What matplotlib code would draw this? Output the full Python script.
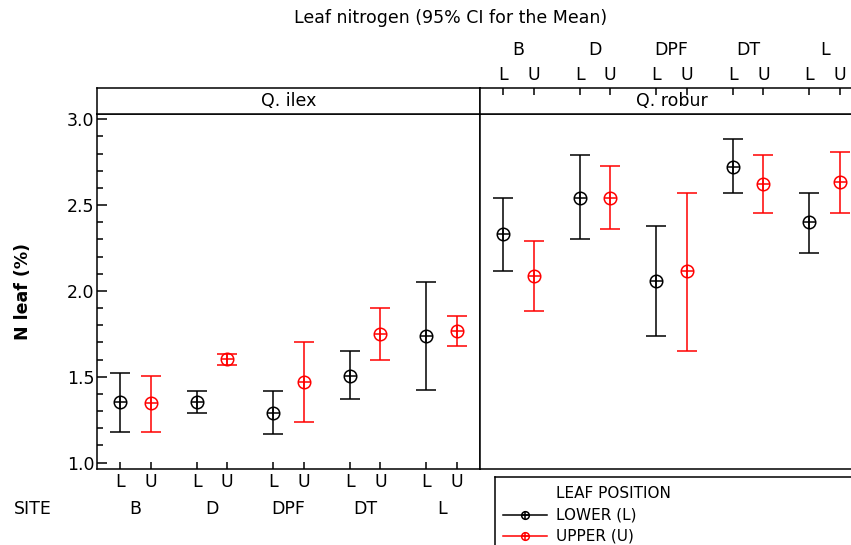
import numpy as np
import matplotlib
matplotlib.use("Agg")
from matplotlib import pyplot as plt
from matplotlib.lines import Line2D
import matplotlib.transforms as mtransforms

sites = ['B', 'D', 'DPF', 'DT', 'L']
positions = ['L', 'U']

# Q. ilex: mean, lower CI, upper CI (per site) for LOWER and UPPER leaves
ilex_L_mean = [1.353, 1.353, 1.291, 1.507, 1.738]
ilex_L_lo = [1.177, 1.291, 1.167, 1.373, 1.425]
ilex_L_hi = [1.524, 1.419, 1.417, 1.650, 2.052]
ilex_U_mean = [1.346, 1.606, 1.470, 1.748, 1.767]
ilex_U_lo = [1.177, 1.571, 1.239, 1.596, 1.678]
ilex_U_hi = [1.507, 1.633, 1.703, 1.899, 1.856]

# Q. robur
robur_L_mean = [2.330, 2.544, 2.060, 2.724, 2.400]
robur_L_lo = [2.115, 2.301, 1.740, 2.571, 2.223]
robur_L_hi = [2.542, 2.792, 2.380, 2.883, 2.569]
robur_U_mean = [2.087, 2.544, 2.115, 2.625, 2.635]
robur_U_lo = [1.882, 2.363, 1.651, 2.454, 2.454]
robur_U_hi = [2.293, 2.730, 2.569, 2.792, 2.810]

W, H = 851, 545
fig = plt.figure(figsize=(W / 100, H / 100), dpi=100)
plt.rcParams['font.family'] = ['DejaVu Sans']
FS = 12.5

def px(x0, y0, x1, y1):
    return [x0 / W, 1 - y1 / H, (x1 - x0) / W, (y1 - y0) / H]

xL = np.arange(len(sites)) * 2.5 + 1
xU = xL + 1
xlim = (0.25, 12.75)
ylim = (0.963, 3.029)

def draw_ci(ax, x, mean, lo, hi, color):
    mean = np.array(mean)
    err = [mean - np.array(lo), np.array(hi) - mean]
    ax.errorbar(x, mean, yerr=err, fmt='none', ecolor=color, elinewidth=1.1,
                capsize=7, capthick=1.1)
    ax.plot(x, mean, 'o', ms=9, mfc='none', mec=color, mew=1.1)
    ax.plot(x, mean, '+', ms=9, mec=color, mew=1.1)

ax1 = fig.add_axes(px(97, 114.3, 480, 469))
ax2 = fig.add_axes(px(480, 114.3, 863, 469))
s1 = fig.add_axes(px(97, 88, 480, 114.3))
s2 = fig.add_axes(px(480, 88, 863, 114.3))

draw_ci(ax1, xL, ilex_L_mean, ilex_L_lo, ilex_L_hi, 'black')
draw_ci(ax1, xU, ilex_U_mean, ilex_U_lo, ilex_U_hi, 'red')
draw_ci(ax2, xL, robur_L_mean, robur_L_lo, robur_L_hi, 'black')
draw_ci(ax2, xU, robur_U_mean, robur_U_lo, robur_U_hi, 'red')

xt = np.ravel(np.column_stack([xL, xU]))
xtl = positions * len(sites)

for ax in (ax1, ax2, s1, s2):
    ax.set_xlim(*xlim)
    for sp in ax.spines.values():
        sp.set_linewidth(1.1)

for ax in (ax1, ax2):
    ax.set_ylim(*ylim)

ax1.set_yticks([1.0, 1.5, 2.0, 2.5, 3.0])
ax1.set_yticks(np.arange(1.0, 3.01, 0.1), minor=True)
ax1.tick_params(axis='y', which='major', direction='in', length=7, width=1.1,
                labelsize=FS, pad=2)
ax1.tick_params(axis='y', which='minor', direction='in', length=4, width=1.1)
ax1.set_xticks(xt)
ax1.set_xticklabels(xtl)
ax1.tick_params(axis='x', direction='in', length=5, width=1.1, labelsize=FS, pad=3)
ax1.set_ylabel('N leaf (%)', fontsize=FS, fontweight='bold', labelpad=25)

ax2.set_xticks([])
ax2.set_yticks([])

trans = mtransforms.blended_transform_factory(ax1.transData, fig.transFigure)
for i, s in enumerate(sites):
    ax1.text((xL[i] + xU[i]) / 2, 1 - 509 / H, s, transform=trans,
             ha='center', va='center', fontsize=FS)
fig.text(33 / W, 1 - 509 / H, 'SITE', ha='center', va='center', fontsize=FS)

for s, name in ((s1, 'Q. ilex'), (s2, 'Q. robur')):
    s.set_yticks([])
    s.text(0.5, 0.5, name, transform=s.transAxes, ha='center', va='center',
           fontsize=FS)
s1.set_xticks([])

s2.set_xticks(xt)
s2.set_xticklabels(xtl)
s2.xaxis.tick_top()
s2.tick_params(axis='x', direction='in', length=5, width=1.1, labelsize=FS, pad=3)
trans2 = mtransforms.blended_transform_factory(s2.transData, fig.transFigure)
for i, s in enumerate(sites):
    s2.text((xL[i] + xU[i]) / 2, 1 - 50 / H, s, transform=trans2,
            ha='center', va='center', fontsize=FS)

fig.text(451 / W, 1 - 18 / H, 'Leaf nitrogen (95% CI for the Mean)',
         ha='center', va='center', fontsize=FS)

# legend box
lg = fig.add_axes(px(495, 476.5, 900, 600))
lg.set_xlim(495, 900)
lg.set_ylim(600, 476.5)
lg.set_xticks([])
lg.set_yticks([])
for sp in lg.spines.values():
    sp.set_linewidth(1.1)
lg.text(556, 493, 'LEAF POSITION', ha='left', va='center', fontsize=11)
for yy, col, lab in ((515, 'black', 'LOWER (L)'), (536, 'red', 'UPPER (U)')):
    lg.add_line(Line2D([503, 547], [yy, yy], color=col, lw=1.1))
    lg.plot([525], [yy], 'o', ms=5.5, mfc='none', mec=col, mew=1.1)
    lg.plot([525], [yy], '+', ms=5.5, mec=col, mew=1.1)
    lg.text(556, yy, lab, ha='left', va='center', fontsize=11)

fig.savefig('out.png', dpi=100)
